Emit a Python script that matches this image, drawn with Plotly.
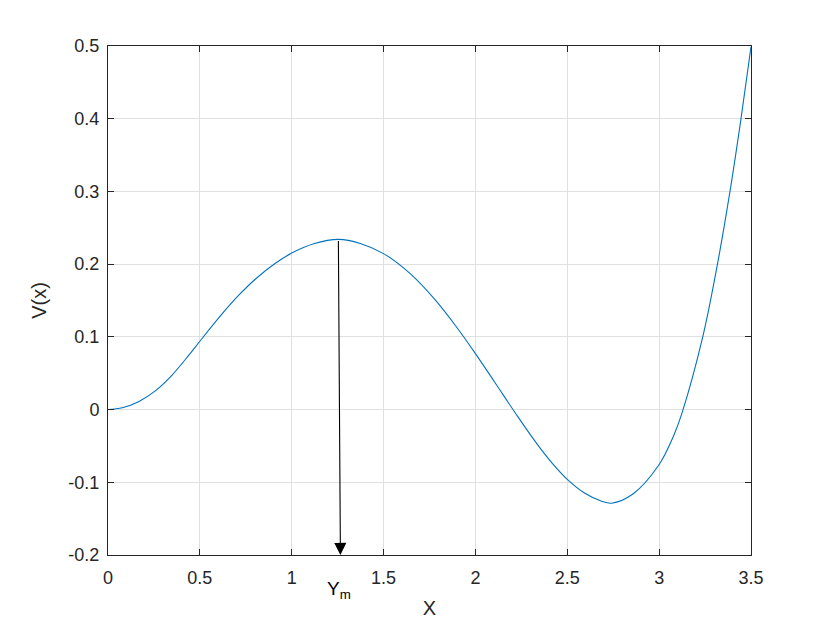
import plotly.graph_objects as go

# values
x_vals = [0, 0.078, 0.169, 0.259, 0.35, 0.44, 0.5, 0.622, 0.712, 0.803, 0.911,
          1.0, 1.12, 1.255, 1.373, 1.5, 1.645, 1.781, 1.89, 2.0, 2.107, 2.216,
          2.325, 2.415, 2.5, 2.596, 2.687, 2.741, 2.859, 3.0, 3.076, 3.122, 3.238,
          3.318, 3.386, 3.446, 3.5]
v_vals = [0, 0.0025, 0.0112, 0.026, 0.0478, 0.0748, 0.094, 0.1319, 0.1573, 0.1796, 0.2012,
          0.2152, 0.2280, 0.2340, 0.2285, 0.2145, 0.1869, 0.1509, 0.1160, 0.0770, 0.0369,
          -0.0043, -0.0438, -0.0730, -0.0960, -0.1152, -0.1261, -0.1288, -0.1158, -0.0756,
          -0.0376, -0.0065, 0.1007, 0.2007, 0.3007, 0.4009, 0.499]

x_ticks = [0, 0.5, 1, 1.5, 2, 2.5, 3, 3.5]
x_ticktext = ["0", "0.5", "1", "1.5", "2", "2.5", "3", "3.5"]
y_ticks = [-0.2, -0.1, 0, 0.1, 0.2, 0.3, 0.4, 0.5]
y_ticktext = ["-0.2", "-0.1", "0", "0.1", "0.2", "0.3", "0.4", "0.5"]

# arrow from the peak down to the x axis
arrow_tail = (1.254, 0.2338)
arrow_head = (1.265, -0.2)
arrow_label = "Y<sub>m</sub>"

FONT = "Liberation Sans, Arial, sans-serif"
AXIS_COLOR = "#262626"
GRID_COLOR = "#e0e0e0"

fig = go.Figure()
fig.add_trace(go.Scatter(
    x=x_vals, y=v_vals, mode="lines",
    line=dict(color="#0072BD", width=1.1, shape="spline", smoothing=1.0),
    showlegend=False,
))

fig.add_annotation(
    x=arrow_head[0], y=arrow_head[1], ax=arrow_tail[0], ay=arrow_tail[1],
    xref="x", yref="y", axref="x", ayref="y",
    text="", showarrow=True, arrowhead=2, arrowsize=2.2, arrowwidth=1.1,
    arrowcolor="black",
)
fig.add_annotation(
    x=arrow_head[0], y=arrow_head[1], xref="x", yref="y",
    text=arrow_label, showarrow=False, yanchor="top", yshift=-21, xshift=-1,
    font=dict(family=FONT, size=19, color="black"),
)

axis_common = dict(
    showline=True, linecolor=AXIS_COLOR, linewidth=1, mirror="ticks",
    ticks="inside", ticklen=6, tickcolor=AXIS_COLOR, tickwidth=1,
    showgrid=True, gridcolor=GRID_COLOR, gridwidth=1, zeroline=False,
    tickfont=dict(family=FONT, size=18, color=AXIS_COLOR),
)

fig.update_xaxes(
    range=[0, 3.5], tickvals=x_ticks, ticktext=x_ticktext, ticklabelstandoff=6,
    title=dict(text="X", font=dict(family=FONT, size=20, color=AXIS_COLOR), standoff=14),
    **axis_common,
)
fig.update_yaxes(
    range=[-0.2, 0.5], tickvals=y_ticks, ticktext=y_ticktext, ticklabelstandoff=4,
    title=dict(text="V(x)", font=dict(family=FONT, size=20, color=AXIS_COLOR), standoff=16),
    **axis_common,
)

# the page adds an 8px body margin, so pull the plot area back by 8px
fig.update_layout(
    width=830, height=623,
    margin=dict(l=100, r=87, t=38, b=76),
    paper_bgcolor="white", plot_bgcolor="white",
)

fig.write_html("out.html")
